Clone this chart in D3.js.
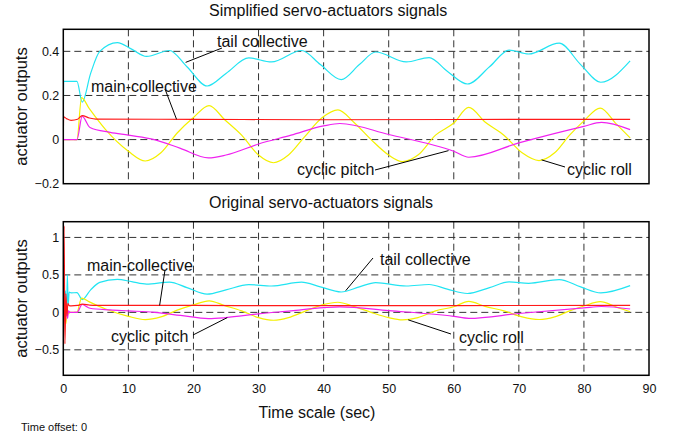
<!DOCTYPE html>
<html>
<head>
<meta charset="utf-8">
<script src="https://cdn.jsdelivr.net/npm/d3@7"></script>
<style>
  body { margin: 0; background: #fff; }
  text { font-family: "Liberation Sans", Arial, sans-serif; fill: #111; }
</style>
</head>
<body>
<div id="chart"></div>
<script>
// signals: [time (s), value]
const tailCollective = [[0,0],[0.05,0.264],[2.1,0.264],[2.9,0.17],[4.2,0.3],[5.6,0.4],[8.3,0.44],[10.5,0.41],[12.8,0.377],[16.3,0.404],[19,0.33],[22.1,0.243],[25,0.3],[28.5,0.37],[32,0.352],[36.6,0.404],[39.5,0.34],[42.7,0.272],[45.5,0.34],[48,0.397],[52.7,0.352],[56.2,0.372],[59,0.31],[62.1,0.252],[65.5,0.33],[68.5,0.406],[71.5,0.388],[76.2,0.437],[79.5,0.34],[82.6,0.26],[87.1,0.357]];
const mainCollective = [[0,0],[0.05,0.103],[0.5,0.095],[1.2,0.087],[2.2,0.092],[2.9,0.109],[4,0.098],[5,0.093],[20,0.092],[40,0.09],[60,0.091],[87.1,0.092]];
const cyclicPitch = [[0,0],[2.1,0],[2.9,0.105],[4.1,0.055],[7.2,0.033],[10,0.02],[14,0],[18,-0.04],[22.3,-0.083],[25,-0.07],[30,-0.02],[35,0.02],[40,0.062],[42.5,0.073],[50,0.023],[60,-0.053],[62.3,-0.08],[70,-0.015],[80,0.06],[82.7,0.078],[87.1,0.045]];
const cyclicRoll = [[0,0],[2.1,0],[2.8,0.19],[4,0.14],[6.5,0.045],[10,-0.053],[12.6,-0.097],[15,-0.06],[17.5,0.03],[20,0.1],[22.4,0.154],[24.8,0.09],[27.4,0.02],[30,-0.07],[32.3,-0.105],[34.6,-0.07],[37,0.01],[39.8,0.1],[42.2,0.135],[44.6,0.08],[47.3,0],[50,-0.07],[52.1,-0.1],[54.5,-0.07],[57.2,0.02],[60,0.075],[62.3,0.146],[64.8,0.08],[67.7,0.02],[70.5,-0.06],[73.1,-0.095],[75.5,-0.06],[77.8,0.02],[80,0.085],[82.5,0.143],[85,0.07],[87.1,0.008]];

// start-up transients that only show in the original signals
const tailStart = [[0,0],[0.05,0.3],[0.3,0.28],[0.5,-0.05],[0.62,0.5],[0.75,0.1],[0.9,0.27],[1.2,0.26]];
const mainStart = [[0,-0.84],[0.12,1.15],[0.25,-0.42],[0.4,0.25],[0.55,-0.05],[0.7,0.12],[0.9,0.09]];
const pitchStart = [[0,0],[0.2,0.12],[0.35,-0.12],[0.5,0.1],[0.65,-0.08],[0.8,0.02],[1.0,0]];
const rollStart = [[0,0],[0.4,-0.15],[0.6,0.05],[0.8,-0.02],[1.0,0]];

const xTicks = [0, 10, 20, 30, 40, 50, 60, 70, 80, 90];
const topTicks = [-0.2, 0, 0.2, 0.4];
const bottomTicks = [-0.5, 0, 0.5, 1];

const width = 682, height = 439;
const svg = d3.select('#chart').append('svg')
    .attr('width', width)
    .attr('height', height);

const x = d3.scaleLinear().domain([0, 90]).range([63.3, 649]);

const colors = {tail: '#22e4f2', main: '#ff1a1a', pitch: '#f022f0', roll: '#f4f000'};

function panel(opts) {
    const y = d3.scaleLinear().domain(opts.domain).range([opts.bottom, opts.top]);
    const g = svg.append('g');
    const id = 'clip' + Math.round(opts.top);

    svg.append('clipPath').attr('id', id)
        .append('rect')
        .attr('x', x(0)).attr('y', opts.top)
        .attr('width', x(90) - x(0)).attr('height', opts.bottom - opts.top);

    // dashed grid
    g.selectAll('.vg').data(xTicks.slice(1, -1)).enter().append('line')
        .attr('x1', d => x(d)).attr('x2', d => x(d))
        .attr('y1', opts.top).attr('y2', opts.bottom)
        .attr('stroke', '#333').attr('stroke-dasharray', '7,4');
    g.selectAll('.hg').data(opts.ticks.filter(t => y(t) > opts.top + 1 && y(t) < opts.bottom - 1)).enter().append('line')
        .attr('x1', x(0)).attr('x2', x(90))
        .attr('y1', d => y(d)).attr('y2', d => y(d))
        .attr('stroke', '#333').attr('stroke-dasharray', '7,4');

    // y axis labels
    const ya = g.append('g')
        .attr('transform', `translate(${x(0)},0)`)
        .call(d3.axisLeft(y).tickValues(opts.ticks).tickSize(0).tickPadding(4)
            .tickFormat(d => String(d).replace('-', '\u2212')));
    ya.select('.domain').remove();
    ya.selectAll('text').style('font-size', '12.5px').style('font-family', '"Liberation Sans", Arial, sans-serif').attr('fill', '#111');

    if (opts.xLabels) {
        const xa = g.append('g')
            .attr('transform', `translate(0,${opts.bottom})`)
            .call(d3.axisBottom(x).tickValues(xTicks).tickSize(0).tickPadding(9));
        xa.select('.domain').remove();
        xa.selectAll('text').style('font-size', '12.5px').style('font-family', '"Liberation Sans", Arial, sans-serif').attr('fill', '#111');
    }

    const line = d3.line()
        .x(d => x(d[0]))
        .y(d => y(d[1]))
        .curve(d3.curveMonotoneX);

    const lines = g.append('g').attr('clip-path', `url(#${id})`);
    [['tail', opts.tail], ['roll', opts.roll], ['pitch', opts.pitch], ['main', opts.main]].forEach(s => {
        lines.append('path')
            .datum(s[1])
            .attr('fill', 'none')
            .attr('stroke', colors[s[0]])
            .attr('stroke-width', 1.2)
            .attr('d', line);
    });

    // frame
    g.append('rect')
        .attr('x', x(0)).attr('y', opts.top)
        .attr('width', x(90) - x(0)).attr('height', opts.bottom - opts.top)
        .attr('fill', 'none').attr('stroke', '#000').attr('stroke-width', 1.5);

    svg.append('text')
        .attr('x', 209).attr('y', opts.top - 13.5)
        .style('font-size', '16px')
        .text(opts.title);

    svg.append('text')
        .attr('transform', `translate(27,${(opts.top + opts.bottom) / 2}) rotate(-90)`)
        .attr('text-anchor', 'middle')
        .style('font-size', '16.5px')
        .text('actuator outputs');

    // annotations: label position and the point the pointer touches
    opts.notes.forEach(n => {
        svg.append('line')
            .attr('x1', n.lx).attr('y1', n.ly)
            .attr('x2', x(n.t)).attr('y2', y(n.v))
            .attr('stroke', '#000').attr('stroke-width', 1);
        svg.append('text')
            .attr('x', n.x).attr('y', n.y)
            .style('font-size', '16px')
            .text(n.text);
    });
    return y;
}

panel({
    top: 29.3, bottom: 183.7, domain: [-0.2, 0.5], ticks: topTicks,
    title: 'Simplified servo-actuators signals',
    tail: tailCollective, main: mainCollective, pitch: cyclicPitch, roll: cyclicRoll,
    notes: [
        {text: 'tail collective', x: 217, y: 46.5, lx: 222, ly: 48, t: 18.8, v: 0.35},
        {text: 'main-collective', x: 91, y: 91.5, lx: 165, ly: 89, t: 17.4, v: 0.092},
        {text: 'cyclic pitch', x: 297, y: 174.5, lx: 375, ly: 170, t: 59.2, v: -0.05},
        {text: 'cyclic roll', x: 567, y: 174.5, lx: 565, ly: 167, t: 73.5, v: -0.092}
    ]
});

panel({
    top: 221.7, bottom: 375.3, domain: [-0.84, 1.21], ticks: bottomTicks,
    title: 'Original servo-actuators signals', xLabels: true,
    tail: tailStart.concat(tailCollective.filter(d => d[0] >= 2)),
    main: mainStart.concat(mainCollective.filter(d => d[0] >= 1.2)),
    pitch: pitchStart.concat(cyclicPitch.filter(d => d[0] >= 2)),
    roll: rollStart.concat(cyclicRoll.filter(d => d[0] >= 2)),
    notes: [
        {text: 'main-collective', x: 87, y: 270.5, lx: 165, ly: 270, t: 14.8, v: 0.092},
        {text: 'cyclic pitch', x: 111, y: 341.5, lx: 193, ly: 335, t: 25.2, v: -0.07},
        {text: 'tail collective', x: 380, y: 264.5, lx: 373, ly: 258, t: 43.4, v: 0.29},
        {text: 'cyclic roll', x: 459, y: 342.5, lx: 451, ly: 334, t: 53, v: -0.1}
    ]
});

svg.append('text')
    .attr('x', 317).attr('y', 418)
    .attr('text-anchor', 'middle')
    .style('font-size', '16px')
    .text('Time scale (sec)');

svg.append('text')
    .attr('x', 21).attr('y', 431)
    .style('font-size', '11px')
    .text('Time offset: 0');
</script>
</body>
</html>
